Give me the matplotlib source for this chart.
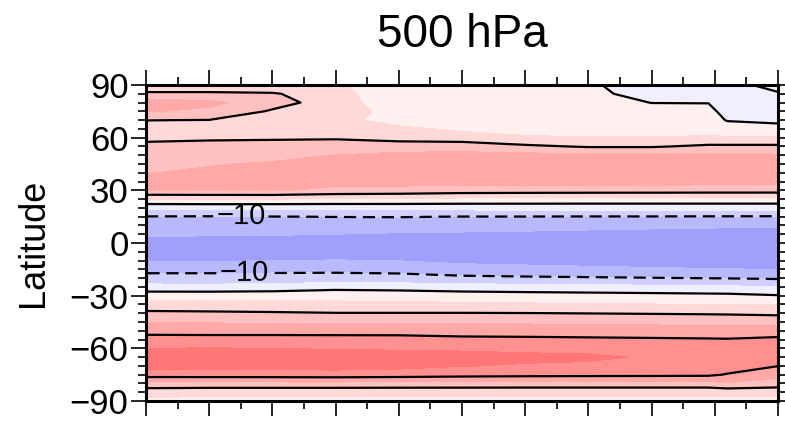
import numpy as np
import matplotlib.pyplot as plt
from matplotlib.ticker import MultipleLocator

plt.rcParams['font.family'] = ['Liberation Sans', 'DejaVu Sans']

# latitude nodes (S -> N) and x positions of the profiles
lat = np.arange(-90, 91, 5)
x_pos = [0, 1, 2, 3, 4, 5, 6, 7, 8, 8.9, 9.2, 10]

# one latitude profile per x position
prof_x0 = [3.5, 7.2, 13.3, 22.5, 26.6, 27.4, 25.0, 21.9, 18.4, 14.6, 11.1, 6.8, 3.0, -3.5, -8.0, -11.6, -15.2, -17.2, -16.6,
           -14.3, -12.3, -10.2, -3.9, 5.0, 15.1, 15.8, 14.9, 13.5, 12.3, 11.1, 9.0, 7.5, 10.1, 15.4, 17.5, 11.0, 5.8]
prof_x1 = [3.5, 6.5, 13.5, 22.5, 26.8, 27.6, 25.2, 21.8, 18.3, 14.6, 10.9, 6.5, 3.0, -3.6, -8.0, -11.6, -15.3, -17.4, -16.9,
           -14.6, -12.5, -10.3, -3.8, 5.2, 15.2, 16.2, 15.5, 14.8, 13.0, 11.5, 9.3, 7.8, 9.9, 14.0, 16.2, 11.0, 5.8]
prof_x2 = [3.5, 6.5, 13.5, 22.6, 26.9, 27.7, 25.0, 21.9, 18.2, 14.5, 10.6, 6.2, 3.3, -3.3, -7.9, -11.5, -15.1, -17.3, -16.9,
           -14.7, -12.6, -10.1, -3.7, 5.0, 15.5, 16.5, 16.2, 15.4, 14.0, 11.8, 9.4, 7.8, 8.0, 9.4, 12.0, 10.5, 6.0]
prof_x3 = [3.5, 6.5, 13.5, 22.8, 27.0, 27.8, 24.6, 22.0, 18.0, 14.3, 10.2, 5.8, 3.8, -2.0, -7.8, -11.4, -14.8, -17.2, -17.0,
           -15.0, -12.8, -9.9, -3.7, 4.6, 14.0, 16.2, 16.8, 16.0, 15.1, 12.2, 9.5, 7.5, 6.8, 7.0, 7.5, 7.0, 5.5]
prof_x4 = [3.4, 6.4, 13.4, 22.4, 26.5, 27.3, 24.4, 21.9, 18.0, 14.3, 10.2, 5.8, 3.5, -2.4, -8.0, -11.8, -15.1, -17.5, -17.2,
           -15.4, -13.0, -9.8, -3.6, 4.4, 13.6, 16.5, 17.2, 16.8, 16.3, 12.5, 8.2, 6.2, 2.8, 3.5, 1.5, 1.0, 2.7]
prof_x5 = [3.4, 6.4, 13.3, 21.8, 25.2, 26.8, 24.2, 21.2, 17.8, 14.3, 10.2, 5.8, 2.5, -2.8, -8.8, -13.2, -16.0, -18.0, -17.6,
           -15.6, -13.2, -10.1, -3.4, 3.8, 12.8, 16.8, 17.5, 17.2, 16.6, 12.6, 7.6, 4.0, 2.8, 2.5, 2.3, 2.3, 2.5]
prof_x6 = [3.3, 6.4, 13.2, 21.5, 24.6, 26.0, 24.0, 21.0, 17.8, 14.2, 10.1, 5.6, 2.2, -3.2, -9.2, -13.6, -16.4, -18.3, -18.0,
           -15.8, -13.5, -10.1, -3.3, 3.6, 12.6, 16.8, 17.5, 17.4, 16.5, 11.0, 5.5, 3.5, 2.6, 2.2, 2.0, 1.8, 1.8]
prof_x7 = [3.3, 6.4, 13.2, 21.3, 24.2, 25.8, 23.6, 20.8, 17.6, 14.0, 9.9, 5.4, 1.9, -3.5, -9.5, -14.0, -16.8, -18.5, -18.2,
           -16.2, -13.7, -10.2, -3.2, 3.4, 12.5, 16.8, 17.6, 17.4, 16.2, 9.5, 5.2, 3.2, 2.2, 1.6, 1.2, 0.8, 0.5]
prof_x8 = [3.3, 6.4, 13.2, 21.2, 23.6, 24.5, 23.2, 20.6, 17.4, 13.8, 9.7, 5.2, 1.6, -3.8, -9.8, -14.4, -17.2, -18.7, -18.4,
           -16.5, -14.0, -10.2, -3.0, 3.2, 12.5, 16.8, 17.6, 17.3, 16.0, 9.5, 5.2, 3.0, 1.8, 0.9, -0.05, -1.2, -1.8]
prof_x89 = [3.2, 6.4, 13.2, 21.0, 23.2, 24.0, 23.0, 20.4, 17.2, 13.6, 9.5, 5.0, 1.3, -4.1, -10.1, -14.7, -17.5, -18.9, -18.6,
            -16.8, -14.2, -10.3, -2.9, 3.1, 12.4, 16.6, 17.4, 17.1, 16.2, 11.0, 5.6, 3.2, 2.0, 1.0, -0.1, -1.2, -1.6]
prof_x92 = [3.2, 6.6, 14.5, 19.6, 23.0, 23.8, 22.9, 20.3, 17.1, 13.5, 9.4, 4.9, 1.2, -4.2, -10.2, -14.8, -17.6, -19.0, -18.7,
            -16.9, -14.3, -10.3, -2.9, 3.1, 12.4, 16.5, 17.3, 17.0, 16.0, 11.0, 5.5, 2.3, -0.3, -1.3, -1.8, -1.8, -1.5]
prof_x10 = [3.0, 7.0, 12.5, 16.8, 20.1, 22.5, 22.8, 21.0, 17.5, 13.2, 9.0, 5.0, 0.3, -4.9, -10.6, -15.1, -17.8, -19.2, -19.0,
            -17.0, -14.5, -10.4, -2.8, 3.0, 12.4, 16.4, 17.2, 16.8, 15.6, 11.0, 5.4, 1.6, -1.0, -1.6, -1.5, -0.4, 1.5]

fill_levels = [-20, -15, -10, -5, 0, 5, 10, 15, 20, 25, 30]
fill_colors = ['#a0a0fc', '#b8b8fc', '#d0d0fe', '#efefff', '#fff0f0',
               '#ffd8d8', '#ffc0c0', '#ffa8a8', '#ff9090', '#ff7676']
line_levels = [-10, 0, 10, 20]

ytick_vals = [-90, -60, -30, 0, 30, 60, 90]
ytick_labels = ['\u221290', '\u221260', '\u221230', '0', '30', '60', '90']

field = np.array([prof_x0, prof_x1, prof_x2, prof_x3, prof_x4, prof_x5, prof_x6,
                  prof_x7, prof_x8, prof_x89, prof_x92, prof_x10]).T

fig = plt.figure(figsize=(7.85, 4.21), dpi=100)
ax = fig.add_axes([146 / 785, 1 - 401 / 421, 632 / 785, 316 / 421])

ax.contourf(x_pos, lat, field, levels=fill_levels, colors=fill_colors)
pos = ax.contour(x_pos, lat, field, levels=[l for l in line_levels if l >= 0],
                 colors='black', linewidths=1.6, linestyles='solid')
neg = ax.contour(x_pos, lat, field, levels=[-10], colors='black',
                 linewidths=1.6, linestyles=[(0, (5.5, 3))])
ax.clabel(neg, fmt={-10: '\u221210'}, fontsize=21, inline=True, inline_spacing=3,
          manual=[(1.5, 15.4), (1.55, -17.0)])

ax.set_xlim(0, 10)
ax.set_ylim(-90, 90)
ax.xaxis.set_major_locator(MultipleLocator(1))
ax.xaxis.set_minor_locator(MultipleLocator(0.5))
ax.set_xticklabels([])
ax.set_yticks(ytick_vals)
ax.set_yticklabels(ytick_labels, fontsize=25)
ax.yaxis.set_minor_locator(MultipleLocator(5))
ax.tick_params(which='both', direction='out', top=True, right=True, width=1.2)
ax.tick_params(which='major', length=10.5, pad=2)
ax.tick_params(which='minor', length=6)
for s in ax.spines.values():
    s.set_linewidth(2.2)

ax.set_ylabel('Latitude', fontsize=26)
ax.yaxis.set_label_coords(-0.15, 0.5)
fig.text(462 / 785, 1 - 47 / 421, '500 hPa', fontsize=33, ha='center', va='baseline')

plt.savefig('out.png', dpi=100)
